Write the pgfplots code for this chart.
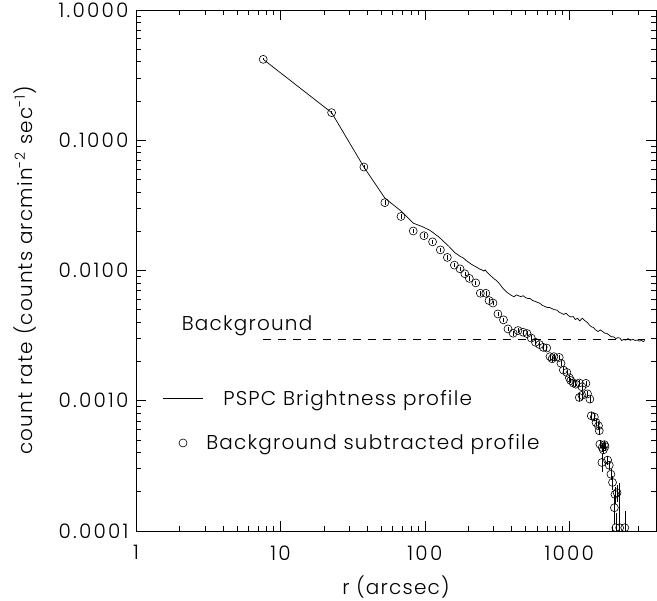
\documentclass[border=0pt]{standalone}
\usepackage{fontspec}
\setmainfont{Poppins Light}[LetterSpace=6]
\usepackage{pgfplots}
\pgfplotsset{compat=1.18}
\usepackage{pgfplotstable}

\pgfplotstableread{
x y
7.6 0.418
22.6 0.163
37.8 0.0623
52.8 0.0360
69 0.0284
83 0.0231
97 0.0216
102 0.0210
107 0.0205
113 0.0197
119 0.0188
125 0.0181
131 0.0172
138 0.0163
145 0.0155
153 0.0146
161 0.0137
168 0.0133
176 0.0128
184 0.0125
192 0.0120
200 0.0116
209 0.0112
218 0.0109
228 0.0106
238 0.0103
248 0.0101
257 0.0099
262 0.0101
267 0.0098
280 0.0093
292 0.0089
303 0.0086
313 0.00838
326 0.0080
340 0.0075
355 0.0071
370 0.0068
385 0.0066
400 0.0064
415 0.0063
430 0.0065
445 0.0064
460 0.0063
479 0.0064
497 0.0062
515 0.0061
534 0.0061
555 0.0059
577 0.0058
600 0.0057
625 0.0056
650 0.0054
676 0.0053
703 0.0052
730 0.0052
758 0.0051
787 0.0050
816 0.00498
848 0.0048
880 0.0047
914 0.0046
948 0.0047
985 0.0045
1022 0.0044
1063 0.00443
1100 0.0042
1140 0.0043
1180 0.0041
1230 0.0043
1280 0.00412
1330 0.0040
1380 0.0038
1420 0.0037
1462 0.00366
1520 0.0035
1580 0.0034
1640 0.0035
1700 0.0034
1760 0.0033
1808 0.0033
1880 0.0032
1950 0.0031
2020 0.0031
2100 0.0030
2170 0.00305
2238 0.00303
2300 0.0029
2380 0.00295
2460 0.00292
2550 0.0030
2640 0.00291
2767 0.00296
2850 0.0029
2950 0.00293
3050 0.00287
3150 0.0029
3250 0.00285
3334 0.0029
}\pspc

\pgfplotstableread{
x y ep em
7.6 0.418 0.02 0.02
22.6 0.163 0.02 0.02
37.8 0.0623 0.03 0.03
52.8 0.0332 0.04 0.04
68.3 0.026 0.04 0.04
83 0.0201 0.04 0.04
98.5 0.0185 0.04 0.04
113 0.0166 0.04 0.04
128 0.0144 0.04 0.04
143 0.0126 0.04 0.04
160 0.0110 0.04 0.04
175 0.0103 0.04 0.04
189 0.00944 0.04 0.04
203 0.0087 0.04 0.04
225 0.00803 0.04 0.04
242 0.00669 0.04 0.04
264 0.00669 0.04 0.04
278 0.00588 0.04 0.04
296 0.00563 0.04 0.04
320 0.00464 0.04 0.04
350 0.00418 0.04 0.04
376 0.00356 0.04 0.04
408 0.0033 0.04 0.04
441 0.00346 0.04 0.04
478 0.00336 0.04 0.04
509 0.00328 0.04 0.04
545 0.00303 0.05 0.05
583 0.00281 0.05 0.05
622 0.0027 0.05 0.05
659 0.00257 0.05 0.05
697 0.00254 0.05 0.05
735 0.00218 0.05 0.05
760 0.00210 0.05 0.05
782 0.00218 0.05 0.05
851 0.00215 0.05 0.05
875 0.00194 0.05 0.05
909 0.00172 0.05 0.05
961 0.00165 0.05 0.05
1000 0.00150 0.05 0.05
1023 0.00143 0.05 0.05
1063 0.00137 0.05 0.05
1108 0.00134 0.05 0.05
1172 0.00137 0.05 0.05
1222 0.00128 0.05 0.05
1302 0.00136 0.05 0.05
1172 0.00106 0.06 0.06
1222 0.00110 0.06 0.06
1335 0.00113 0.06 0.06
1387 0.00103 0.06 0.06
1418 0.000767 0.06 0.06
1490 0.00075 0.06 0.06
1530 0.000681 0.06 0.06
1590 0.000643 0.06 0.06
1610 0.000589 0.07 0.07
1627 0.000464 0.07 0.07
1690 0.000437 0.07 0.07
1720 0.000420 0.07 0.07
1750 0.000460 0.07 0.07
1765 0.000445 0.07 0.07
1680 0.000336 0.16 0.16
1840 0.00035 0.08 0.08
1890 0.00032 0.08 0.08
1940 0.000273 0.10 0.10
1990 0.000236 0.12 0.12
2070 0.000191 0.15 0.15
2140 0.000197 0.15 0.15
2050 0.000151 0.25 0.25
2100 0.000106 0.30 0.40
2230 0.000106 1.20 0.40
2420 0.000106 0.34 0.40
}\bsub

\begin{document}
\begin{tikzpicture}[font=\fontsize{20bp}{24bp}\selectfont]
\useasboundingbox (-136bp,-70bp) rectangle (521bp,531bp);
\begin{axis}[
  at={(0,0)}, anchor=south west,
  scale only axis, width=520bp, height=521bp,
  xmode=log, ymode=log,
  xmin=1, xmax=3980, ymin=1e-4, ymax=1,
  xtick={1,10,100,1000}, xticklabels={1,10,100,1000},
  minor xtick={2,3,4,5,6,7,8,9,20,30,40,50,60,70,80,90,200,300,400,500,600,700,800,900,2000,3000},
  ytick={1e-4,1e-3,1e-2,1e-1,1}, yticklabels={0.0001,0.0010,0.0100,0.1000,1.0000},
  minor ytick={2e-4,3e-4,4e-4,5e-4,6e-4,7e-4,8e-4,9e-4,2e-3,3e-3,4e-3,5e-3,6e-3,7e-3,8e-3,9e-3,0.02,0.03,0.04,0.05,0.06,0.07,0.08,0.09,0.2,0.3,0.4,0.5,0.6,0.7,0.8,0.9},
  tick align=inside, xtick pos=both, ytick pos=both,
  major tick length=10bp, minor tick length=5bp,
  axis line style={line width=0.8bp},
  every tick/.style={black, line width=0.8bp},
  tick label style={font=\fontsize{20bp}{24bp}\selectfont\addfontfeature{LetterSpace=11}},
  xticklabel style={yshift=-11bp},
  yticklabel style={xshift=-4bp},
  xlabel={r (arcsec)},
  ylabel={count rate (counts arcmin\textsuperscript{-2} sec\textsuperscript{-1})},
  every axis x label/.style={at={(axis description cs:0.5,-0.1075)}, anchor=center},
  every axis y label/.style={at={(axis description cs:-0.2135,0.5)}, rotate=90, anchor=center},
  legend style={draw=none, fill=none, at={(axis description cs:0.0513,0.2706)}, anchor=north west,
    inner sep=0pt, outer sep=0pt, row sep=28bp, column sep=0pt, nodes={inner sep=0pt}},
  legend cell align=left,
  legend image code/.code={\draw[mark repeat=2,mark phase=2,#1] plot coordinates {(0bp,0bp) (20bp,0bp) (40bp,0bp)};},
  clip marker paths=false,
]
\addplot[black, line width=0.7bp, mark=none] table[x=x,y=y] {\pspc};
\addlegendentry{\hspace*{20bp}PSPC Brightness profile}
\addplot[black, only marks, mark=o, mark size=4bp, mark options={line width=0.6bp},
  error bars/.cd, y dir=both, y explicit relative, error mark=none,
  error bar style={line width=0.6bp}]
  table[x=x,y=y,y error plus=ep,y error minus=em] {\bsub};
\addlegendentry{\hspace*{3bp}Background subtracted profile}
\addplot[black, line width=0.7bp, dash pattern=on 8bp off 7bp, forget plot] coordinates {(7.57,0.00295) (3350,0.00295)};
\node[anchor=base west, inner sep=0pt] at (axis cs:2.07,0.003455) {Background};
\end{axis}
\end{tikzpicture}
\end{document}
